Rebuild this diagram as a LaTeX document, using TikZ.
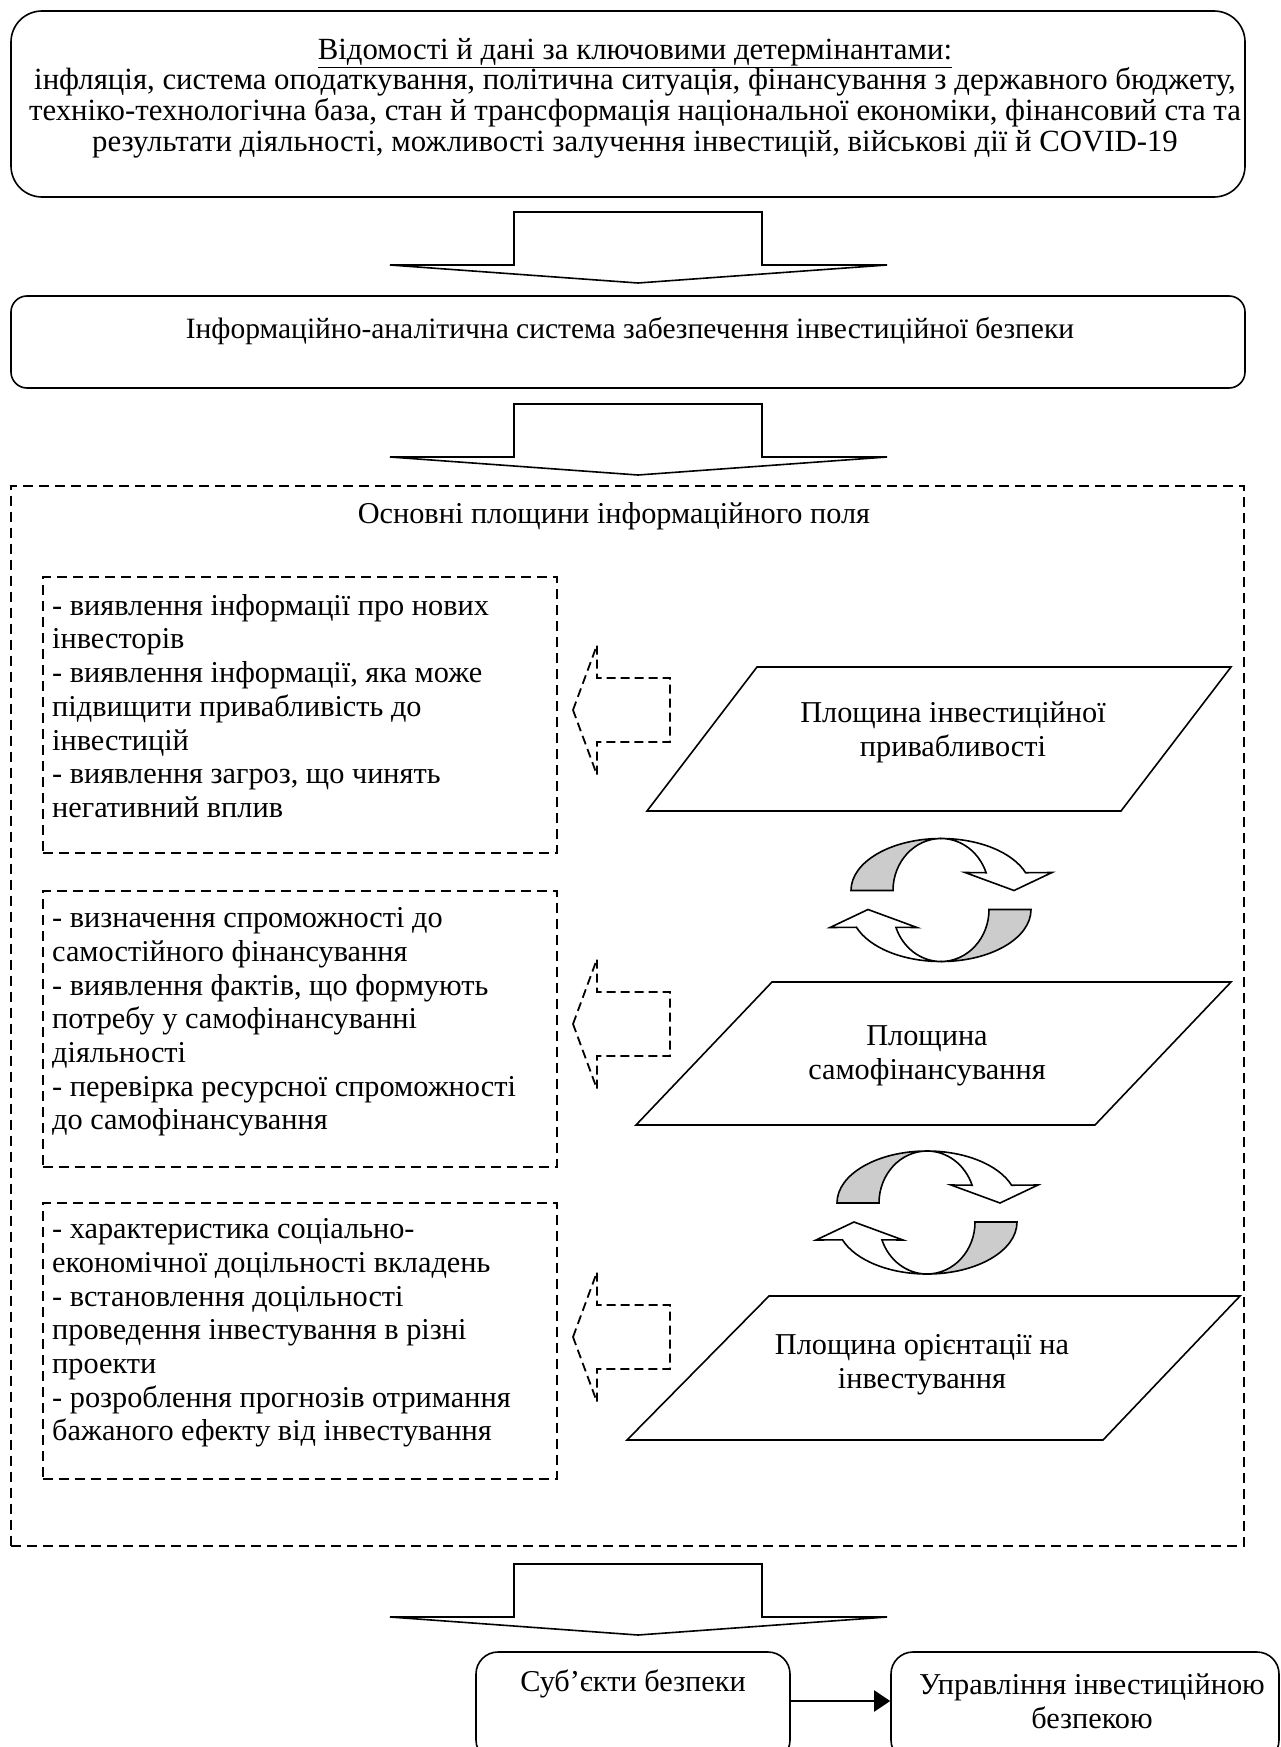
\documentclass[tikz,border=0pt]{standalone}
\usepackage{fontspec}
\setmainfont{Liberation Serif}
\usetikzlibrary{arrows.meta,positioning}
\definecolor{swirlgray}{RGB}{204,204,204}
\tikzset{
  every node/.style={font=\fontsize{30.3}{33.7}\selectfont, inner sep=0pt},
  roundbox/.style={draw, line width=1.6pt, minimum width=1234pt},
  dashbox/.style={draw, line width=1.6pt, dash pattern=on 10pt off 6pt},
  planeline/.style={line width=1.6pt, line join=miter},
  blockline/.style={line width=1.6pt, fill=white},
  hintline/.style={line width=1.8pt, dash pattern=on 9pt off 5pt},
  txt/.style={align=center},
  notes/.style={align=left, anchor=west},
}
% wide arrow pointing down, #1 = top centre
\newcommand{\bigarrow}[1]{%
  \filldraw[blockline, shift={(#1)}] (-124,0) -- (124,0) -- (124,53) -- (249,53)
    -- (0,71) -- (-248,53) -- (-124,53) -- cycle;}
% dashed arrow pointing left, #1 = tip
\newcommand{\hintarrow}[1]{%
  \draw[hintline, shift={(#1)}] (0,0) -- (24,-65) -- (24,-32) -- (97,-32)
    -- (97,32) -- (24,32) -- (24,65) -- cycle;}
% pair of curved arrows, #1 = centre
\newcommand{\swirl}[1]{%
  \foreach \turn in {0,180}{%
    \begin{scope}[shift={(#1)}, rotate=\turn, shift={(0,-9.5)}]
      \filldraw[blockline, fill=swirlgray] (-90,0)
        arc[start angle=180, end angle=90, x radius=90pt, y radius=52pt]
        arc[start angle=90, end angle=180, x radius=48pt, y radius=52pt] -- cycle;
      \filldraw[blockline] (0,-52)
        arc[start angle=90, end angle=20, x radius=90pt, y radius=52pt]
        -- (111,-18) -- (73,0) -- (24,-18) -- (45.1,-17.8)
        arc[start angle=20, end angle=90, x radius=48pt, y radius=52pt] -- cycle;
    \end{scope}}}

\begin{document}
\begin{tikzpicture}[x=1pt, y=-1pt]
\useasboundingbox (0,0) rectangle (1281,1747);
\clip (0,0) rectangle (1281,1747);
\fill[white] (0,0) rectangle (1281,1747);

% determinants
\node (detbox) [roundbox, rounded corners=31pt, minimum height=186pt] at (628,104) {};
\node (dettext) [txt, font=\fontsize{30.8}{30.7}\selectfont] at (635,98) {\underline{Відомості й дані за ключовими детермінантами:}\\
інфляція, система оподаткування, політична ситуація, фінансування з державного бюджету,\\
техніко-технологічна база, стан й трансформація національної економіки, фінансовий ста та\\
результати діяльності, можливості залучення інвестицій, військові дії й COVID-19};
\bigarrow{638,212}

% information system
\node (infobox) [roundbox, rounded corners=16pt, minimum height=92pt] at (628,342) {};
\node (infotext) [font=\fontsize{29.5}{33.7}\selectfont] at (630,331) {Інформаційно-аналітична система забезпечення інвестиційної безпеки};
\bigarrow{638,404}

% information field
\node (field) [dashbox, minimum width=1233pt, minimum height=1060pt] at (627.5,1016) {};
\node (fieldtitle) at (614,516) {Основні площини інформаційного поля};

\node (taskA) [dashbox, minimum width=514pt, minimum height=276pt] at (300,715) {};
\node (notesA) [notes] at (52,706) {- виявлення інформації про нових\\
інвесторів\\
- виявлення інформації, яка може\\
підвищити привабливість до\\
інвестицій\\
- виявлення загроз, що чинять\\
негативний вплив};
\node (taskB) [dashbox, minimum width=514pt, minimum height=276pt] at (300,1029) {};
\node (notesB) [notes] at (52,1022) {- визначення спроможності до\\
самостійного фінансування\\
- виявлення фактів, що формують\\
потребу у самофінансуванні\\
діяльності\\
- перевірка ресурсної спроможності\\
до самофінансування};
\node (taskC) [dashbox, minimum width=514pt, minimum height=276pt] at (300,1341) {};
\node (notesC) [notes] at (52,1333) {- характеристика соціально-\\
економічної доцільності вкладень\\
- встановлення доцільності\\
проведення інвестування в різні\\
проекти\\
- розроблення прогнозів отримання\\
бажаного ефекту від інвестування};

\hintarrow{573,710}
\hintarrow{573,1024}
\hintarrow{573,1337}

% planes
\draw[planeline] (757,667) -- (1231,667) -- (1121,811) -- (647,811) -- cycle;
\node (planeA) [txt] at (953,732) {Площина інвестиційної\\привабливості};
\draw[planeline] (772,982) -- (1231,982) -- (1095,1125) -- (636,1125) -- cycle;
\node (planeB) [txt] at (927,1056) {Площина\\самофінансування};
\draw[planeline] (769,1296) -- (1240,1296) -- (1103,1440) -- (627,1440) -- cycle;
\node (planeC) [txt] at (922,1365) {Площина орієнтації на\\інвестування};

\swirl{941,900}
\swirl{927,1212.5}

% subjects and management
\bigarrow{638,1564}
\node (subj) [roundbox, rounded corners=22pt, minimum width=314pt, minimum height=110pt] at (633,1707) {};
\node (subjtext) at (633,1684) {Суб’єкти безпеки};
\node (mgmt) [roundbox, rounded corners=22pt, minimum width=388pt, minimum height=110pt] at (1085,1707) {};
\node (mgmttext) [txt] at (1092,1701) {Управління інвестиційною\\безпекою};
\draw[-{Triangle[length=16pt,width=21pt]}, line width=2pt] ([yshift=6pt]subj.east) -- ([yshift=6pt]mgmt.west);
\end{tikzpicture}
\end{document}
